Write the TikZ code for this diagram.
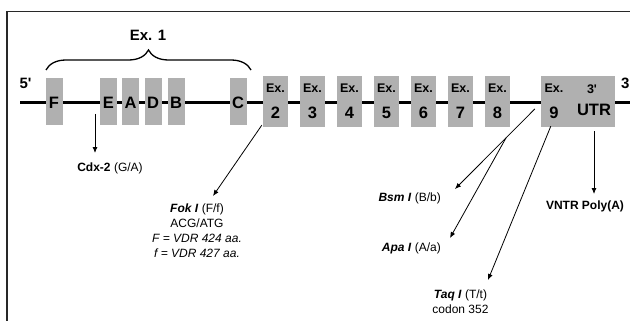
\documentclass[tikz,border=0pt]{standalone}
\usepackage{fontspec}
\setmainfont{Liberation Sans}
\usepackage{tikz}
\usetikzlibrary{arrows.meta,calc,decorations.pathreplacing}
\definecolor{ExonGray}{RGB}{176,176,176}
\definecolor{FrameGray}{RGB}{40,40,40}

\begin{document}
\begin{tikzpicture}[x=1pt,y=-1pt,
    exon/.style={fill=ExonGray, inner sep=0pt, minimum width=25pt, minimum height=51pt},
    subexon/.style={fill=ExonGray, inner sep=0pt, minimum width=17pt, minimum height=47pt},
    big/.style={font=\fontsize{16.5}{18}\selectfont\bfseries, inner sep=0pt},
    small/.style={font=\fontsize{12.5}{14}\selectfont\bfseries, inner sep=0pt},
    lbl/.style={font=\fontsize{12}{15}\selectfont, align=center, inner sep=0pt},
    pin/.style={line width=0.8pt, -{Latex[length=6pt,width=5pt]}}]
  \clip (0,0) rectangle (630,321);
  \draw[line width=1.3pt, FrameGray] (7,321) -- (7,11.5) -- (630,11.5);
  % gene
  \draw[line width=3pt] (20,103) -- (630,103);
  \node[big, font=\fontsize{15}{18}\selectfont\bfseries] (five) at (25.5,83) {5\textquotesingle};
  \node[big, font=\fontsize{15}{18}\selectfont\bfseries, anchor=west] (three) at (621,83) {3\textquotesingle};
  % exon 1
  \foreach \name/\x in {F/54,E/108.5,A/130.5,D/153,B/176,C/238} {
    \node[subexon] (ex1\name) at (\x,101.5) {};
    \node[big] at ([yshift=-1.5pt]ex1\name.center) {\name};
  }
  \draw[line width=1.3pt, decorate, decoration={brace, amplitude=20pt}] (46,70) -- (251,70);
  \node[font=\fontsize{15}{18}\selectfont\bfseries] (ex1lbl) at (148,35) {Ex. 1};
  % exons 2-8
  \foreach \n in {2,...,8} {
    \pgfmathsetmacro{\xc}{275.5+37*(\n-2)}
    \node[exon] (ex\n) at (\xc,101.5) {};
    \node[small] at ([yshift=13.5pt]ex\n.center) {Ex.};
    \node[big] at ([yshift=-11.5pt]ex\n.center) {\n};
  }
  \node[exon, minimum width=74pt] (ex9) at (578,101.5) {};
  \node[small] at (554,88) {Ex.};
  \node[big] at (554,113) {9};
  \node[small] at (592,89) {3\textquotesingle};
  \node[big] at (594,110) {UTR};
  % polymorphisms
  \node[lbl] (cdx) at (110,168) {\textbf{Cdx-2} (G/A)};
  \node[lbl] (fok) at (197,230.5) {\textbf{\textit{Fok I}} (F/f)\\ACG/ATG\\\textit{F = VDR 424 aa.}\\\textit{f = VDR 427 aa.}};
  \node[lbl, anchor=east] (bsm) at (441,198) {\textbf{\textit{Bsm I}} (B/b)};
  \node[lbl, anchor=east] (apa) at (441,248) {\textbf{\textit{Apa I}} (A/a)};
  \node[lbl] (taq) at (460.5,301.5) {\textbf{\textit{Taq I}} (T/t)\\codon 352};
  \node[lbl, font=\fontsize{12}{15}\selectfont\bfseries] (vntr) at (585,206) {VNTR Poly(A)};
  \coordinate (cdxfrom) at (95,114);
  \coordinate (cdxtip) at (95,153);
  \coordinate (foktip) at (213,196);
  \coordinate (bsmfrom) at ($(ex9.west)+(-6,7.5)$);
  \coordinate (bsmtip) at (455,189);
  \coordinate (apafrom) at ($(bsmfrom)!0.36!(bsmtip)$);
  \coordinate (apatip) at (450,238);
  \coordinate (taqtip) at (488,280);
  \coordinate (vntrtip) at (594,194);
  \draw[pin] (cdxfrom) -- (cdxtip);
  \draw[pin] ($(ex2.south west)+(-1,-2)$) -- (foktip);
  \draw[pin] (bsmfrom) -- (bsmtip);
  \draw[pin] (apafrom) -- (apatip);
  \draw[pin] ($(ex9.south west)+(10,-1)$) -- (taqtip);
  \draw[pin] ($(ex9.south)+(16,4)$) -- (vntrtip);
\end{tikzpicture}
\end{document}
